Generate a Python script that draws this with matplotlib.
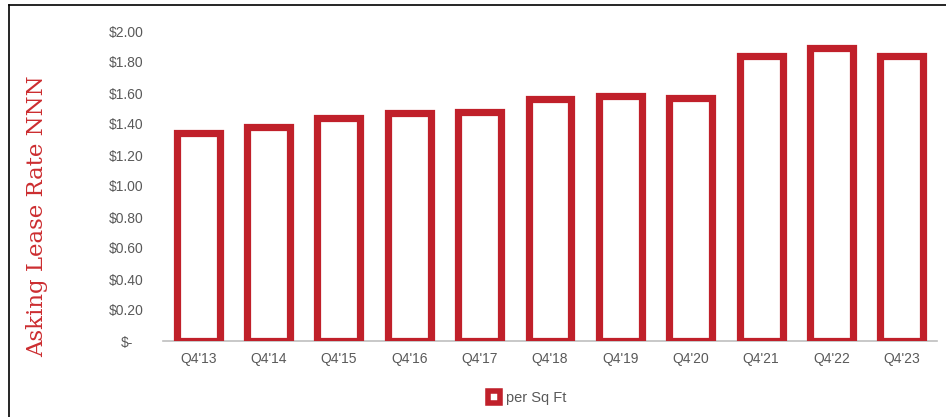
import matplotlib
matplotlib.use("Agg")
import matplotlib.pyplot as plt
from matplotlib.patches import Rectangle
from matplotlib.lines import Line2D
import matplotlib.transforms as mtransforms

quarters = ["Q4'13", "Q4'14", "Q4'15", "Q4'16", "Q4'17", "Q4'18",
            "Q4'19", "Q4'20", "Q4'21", "Q4'22", "Q4'23"]
rates = [1.34, 1.38, 1.44, 1.47, 1.48, 1.56, 1.58, 1.57, 1.84, 1.89, 1.84]
yticks = [0, 0.2, 0.4, 0.6, 0.8, 1.0, 1.2, 1.4, 1.6, 1.8, 2.0]
ytick_labels = ["$-", "$0.20", "$0.40", "$0.60", "$0.80", "$1.00",
                "$1.20", "$1.40", "$1.60", "$1.80", "$2.00"]
series_name = "per Sq Ft"

RED = "#C0202A"
GRAY = "#595959"

fig = plt.figure(figsize=(9.46, 4.17), dpi=100)
ax = fig.add_axes([163/946, 1-341/417, (937-163)/946, (341-31)/417])

x = list(range(len(quarters)))
ax.bar(x, rates, width=0.61, facecolor="white", edgecolor=RED,
       linewidth=5.2, joinstyle="miter", zorder=3)

ax.set_xlim(-0.5, len(quarters)-0.5)
ax.set_ylim(0, 2.0)
ax.set_yticks(yticks)
ax.set_yticklabels(ytick_labels, fontfamily="Liberation Sans", fontsize=10, color=GRAY)
ax.set_xticks(x)
ax.set_xticklabels(quarters, fontfamily="Liberation Sans", fontsize=10, color=GRAY)
ax.tick_params(axis="y", length=0, pad=14)
ax.tick_params(axis="x", length=0, pad=8)
for s in ["top", "right", "left"]:
    ax.spines[s].set_visible(False)
ax.spines["bottom"].set_color("#BFBFBF")
ax.spines["bottom"].set_linewidth(1.2)
ax.spines["bottom"].set_zorder(2)

# shift "$-" label like accounting format
lbl = ax.get_yticklabels()[0]
lbl.set_transform(lbl.get_transform() + mtransforms.ScaledTranslation(-10/100, 0, fig.dpi_scale_trans))

fig.text(37/946, 1-216/417, "Asking Lease Rate NNN", rotation=90,
         ha="center", va="center", color="#CC2D30", fontsize=16.5,
         fontfamily="DejaVu Serif")

handle = Rectangle((0, 0), 1, 1, facecolor="white", edgecolor=RED, linewidth=4)
fig.legend([handle], [series_name], loc="center", bbox_to_anchor=(527/946, 1-398/417),
           frameon=False, prop={"family": "Liberation Sans", "size": 10.5},
           labelcolor=GRAY, handlelength=0.8, handleheight=0.8, handletextpad=0.4)

# outer frame
fig.add_artist(Line2D([9/946, 1], [1-5/417, 1-5/417], transform=fig.transFigure,
                      color="black", linewidth=1.2))
fig.add_artist(Line2D([9/946, 9/946], [0, 1-5/417], transform=fig.transFigure,
                      color="black", linewidth=1.2))

fig.savefig("out.png", dpi=100)
